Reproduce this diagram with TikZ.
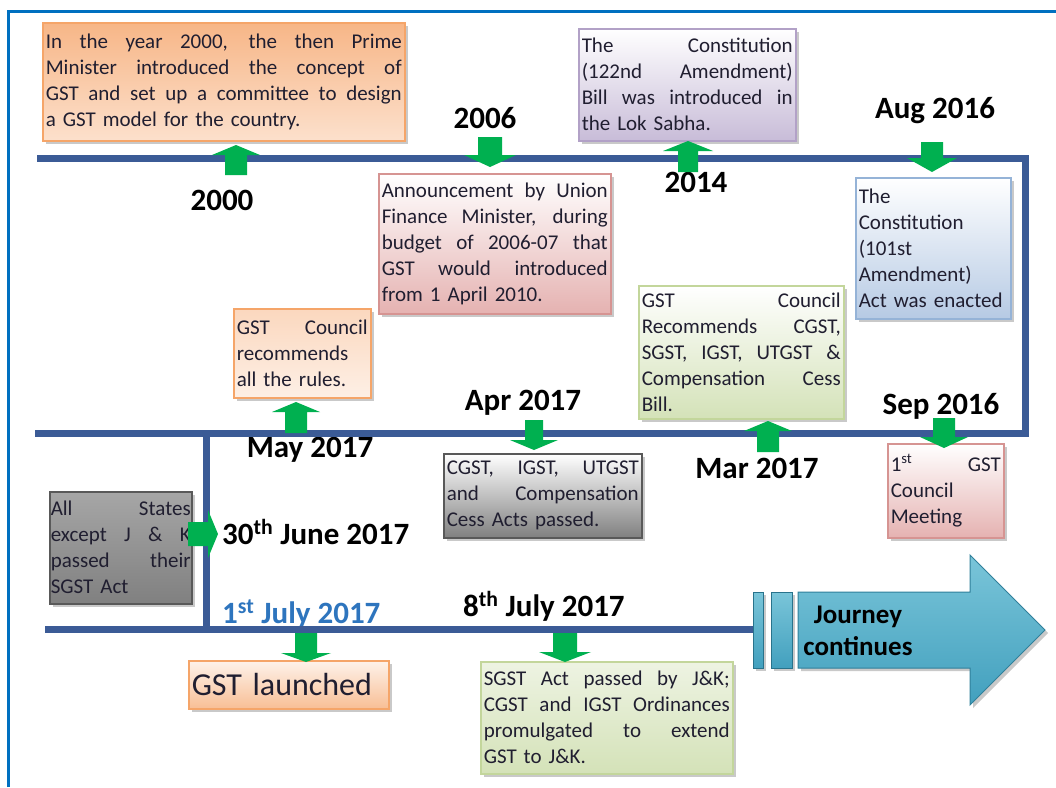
\documentclass[tikz,border=0pt]{standalone}
\usepackage{fontspec}
\setmainfont{Carlito}
\usetikzlibrary{shadows}

\definecolor{frameblue}{RGB}{0,112,192}
\definecolor{lineblue}{RGB}{59,91,150}
\definecolor{agreen}{RGB}{0,176,80}
\definecolor{textc}{RGB}{32,30,48}
\definecolor{julyblue}{RGB}{46,117,190}
% box colours
\definecolor{orgB}{RGB}{245,165,105}
\definecolor{orgT}{RGB}{247,182,135}
\definecolor{orgL}{RGB}{252,224,204}
\definecolor{pinkB}{RGB}{214,148,146}
\definecolor{pinkF}{RGB}{229,178,177}
\definecolor{purB}{RGB}{178,161,199}
\definecolor{purF}{RGB}{200,188,216}
\definecolor{bluB}{RGB}{149,179,215}
\definecolor{bluF}{RGB}{182,202,228}
\definecolor{grnB}{RGB}{195,214,155}
\definecolor{grnF}{RGB}{212,226,184}
\definecolor{gryB}{RGB}{89,89,89}
\definecolor{gryF}{RGB}{128,128,128}
\definecolor{jrnT}{RGB}{122,197,217}
\definecolor{jrnB}{RGB}{66,160,190}
\definecolor{jrnD}{RGB}{40,115,140}

\newcommand\bxfont{\fontsize{21}{26}\selectfont}
\newcommand\lblfont{\bfseries\fontsize{31}{34}\selectfont}
\newlength\jw
% one line of text spread over the full box width
\newcommand\jst[1]{\leavevmode\hbox to\jw{\spaceskip=0.226em plus 1fil\relax#1}}

% vertical block arrow: x, tail y, head base y, tip y, head half width, shaft half width
\newcommand\arrV[6]{\fill[agreen] (#1-#6,#2) -- (#1-#6,#3) -- (#1-#5,#3) -- (#1,#4) -- (#1+#5,#3) -- (#1+#6,#3) -- (#1+#6,#2) -- cycle;}
% horizontal block arrow: y, tail x, head base x, tip x, head half height, shaft half height
\newcommand\arrH[6]{\fill[agreen] (#2,#1-#6) -- (#3,#1-#6) -- (#3,#1-#5) -- (#4,#1) -- (#3,#1+#5) -- (#3,#1+#6) -- (#2,#1+#6) -- cycle;}

\tikzset{
  shad/.style={drop shadow={shadow xshift=3pt, shadow yshift=-3pt, opacity=0.35, fill=black!60}},
  tbox/.style={draw, line width=1.5pt, anchor=north west, inner xsep=3pt, inner ysep=0pt,
               font=\bxfont, text=textc, align=left, shad},
  tw/.style={text width=#1, execute at begin node={\setlength{\jw}{#1}}},
  lbl/.style={font=\lblfont, text=black, inner sep=0pt},
  tline/.style={draw=lineblue, line width=7pt},
}

\begin{document}
\begin{tikzpicture}[x=1pt,y=-1pt]
\useasboundingbox (0,0) rectangle (1056,787);
\fill[white] (0,0) rectangle (1056,787);

% page frame
\draw[frameblue, line width=3pt] (8,787) -- (8,11) -- (1056,11);

% date labels
\node[lbl, anchor=base] (l2000) at (222,210) {2000};
\node[lbl, anchor=base] (l2006) at (485,128) {2006};
\node[lbl, anchor=base] (l2014) at (696,192) {2014};
\node[lbl, anchor=base] (lAug) at (935,118) {Aug 2016};
\node[lbl, anchor=base] (lSep) at (941,414) {Sep 2016};
\node[lbl, anchor=base] (lApr) at (523,410) {Apr 2017};
\node[lbl, anchor=base] (lMar) at (757,478) {Mar 2017};
\node[lbl, anchor=base] (lMay) at (310,457) {May 2017};
\node[lbl, anchor=base west] (lJune) at (222,544) {30\textsuperscript{th} June 2017};
\node[lbl, anchor=base west, text=julyblue] (lJuly1) at (222,623) {1\textsuperscript{st} July 2017};
\node[lbl, anchor=base west] (lJuly8) at (463,616) {8\textsuperscript{th} July 2017};

% timeline
\path[tline] (37,158) -- (1025,158) -- (1025,433) -- (35,433);
\path[tline] (206,433) -- (206,629);
\path[tline] (45,629) -- (760,629);

% event boxes
\node[tbox, draw=orgB, top color=orgT, bottom color=orgL,
      minimum width=362pt, minimum height=118pt, tw=356pt] (b2000) at (42,22)
  {\jst{In the year 2000, the then Prime}\\
   \jst{Minister introduced the concept of}\\
   \jst{GST and set up a committee to design}\\
   a GST model for the country.};

\node[tbox, draw=pinkB, top color=white, bottom color=pinkF,
      minimum width=232pt, minimum height=140pt, tw=226pt] (b2006) at (378,173)
  {\jst{Announcement by Union}\\
   \jst{Finance Minister, during}\\
   \jst{budget of 2006-07 that}\\
   \jst{GST would introduced}\\
   from 1 April 2010.};

\node[tbox, draw=purB, top color=white, bottom color=purF,
      minimum width=217pt, minimum height=112pt, tw=211pt] (b2014) at (578,28)
  {\jst{The Constitution}\\
   \jst{(122nd Amendment)}\\
   \jst{Bill was introduced in}\\
   the Lok Sabha.};

\node[tbox, draw=bluB, top color=white, bottom color=bluF,
      minimum width=155pt, minimum height=141pt, tw=149pt] (bAug) at (855,177)
  {The\\ Constitution\\ (101st\\ Amendment)\\ Act was enacted};

\node[tbox, draw=pinkB, top color=white, bottom color=pinkF,
      minimum width=116pt, minimum height=94pt, tw=110pt] (bSep) at (887,443)
  {\jst{1\textsuperscript{st} GST}\\ Council\\ Meeting};

\node[tbox, draw=grnB, top color=white, bottom color=grnF,
      minimum width=205pt, minimum height=133pt, tw=199pt] (bMar) at (638,285)
  {\jst{GST Council}\\
   \jst{Recommends CGST,}\\
   \jst{SGST, IGST, UTGST \&}\\
   \jst{Compensation Cess}\\
   Bill.};

\node[tbox, draw=gryB, top color=white, bottom color=gryF,
      minimum width=198pt, minimum height=84pt, tw=192pt] (bApr) at (443,453)
  {\jst{CGST, IGST, UTGST}\\
   \jst{and Compensation}\\
   Cess Acts passed.};

\node[tbox, draw=orgB, top color=orgL!80!orgT, bottom color=orgL!50!white,
      minimum width=137pt, minimum height=89pt, tw=131pt] (bMay) at (233,308)
  {\jst{GST Council}\\ recommends\\ all the rules.};

\node[tbox, draw=gryB, top color=gryF!70!white, middle color=white, bottom color=gryF,
      minimum width=140pt, minimum height=112pt, tw=140pt, inner xsep=1pt] (bJune) at (49,491)
  {\jst{All States}\\
   \jst{except J \& K}\\
   \jst{passed their}\\
   SGST Act};

\node[tbox, draw=orgB, top color=orgL!40!white, bottom color=orgT!80!orgL,
      minimum width=200pt, minimum height=48pt, tw=194pt,
      font=\fontsize{32}{36}\selectfont] (bLaunch) at (188,660)
  {GST launched};

\node[tbox, draw=grnB, top color=grnF!40!white, bottom color=grnF,
      minimum width=252pt, minimum height=112pt, tw=246pt] (bJuly8) at (480,661)
  {\jst{SGST Act passed by J\&K;}\\
   \jst{CGST and IGST Ordinances}\\
   \jst{promulgated to extend}\\
   GST to J\&K.};

% green pointers between the timeline and the boxes
\arrV{236}{175}{155}{145}{24}{11}
\arrV{490}{137}{155}{167}{26}{12}
\arrV{688}{172}{151}{141}{25}{10}
\arrV{932}{142}{158}{172}{25}{11}
\arrV{944}{418}{437}{448}{24}{11}
\arrV{534}{420}{440}{450}{24}{9}
\arrV{768}{452}{431}{421}{24}{11}
\arrV{296}{433}{412}{402}{24}{11}
\arrH{534}{188}{208}{218}{24}{12}
\arrV{306}{633}{653}{662}{25}{11}
\arrV{565}{633}{652}{662}{26}{12}

% closing arrow
\path[draw=jrnD, line width=1pt, top color=jrnT, bottom color=jrnB, shad]
  (753,592) rectangle (763,668);
\path[draw=jrnD, line width=1pt, top color=jrnT, bottom color=jrnB, shad]
  (771,592) rectangle (792,668);
\path[draw=jrnD!70!jrnB, line width=1pt, top color=jrnT, bottom color=jrnB, shad]
  (798,592) -- (970,592) -- (970,555) -- (1045,630) -- (970,705) -- (970,668) -- (798,668) -- cycle;
\node[font=\bfseries\fontsize{27}{32}\selectfont, text=black, align=center, inner sep=0pt,
      anchor=base] (jrn) at (858,655) {Journey\\ continues};
\end{tikzpicture}
\end{document}
